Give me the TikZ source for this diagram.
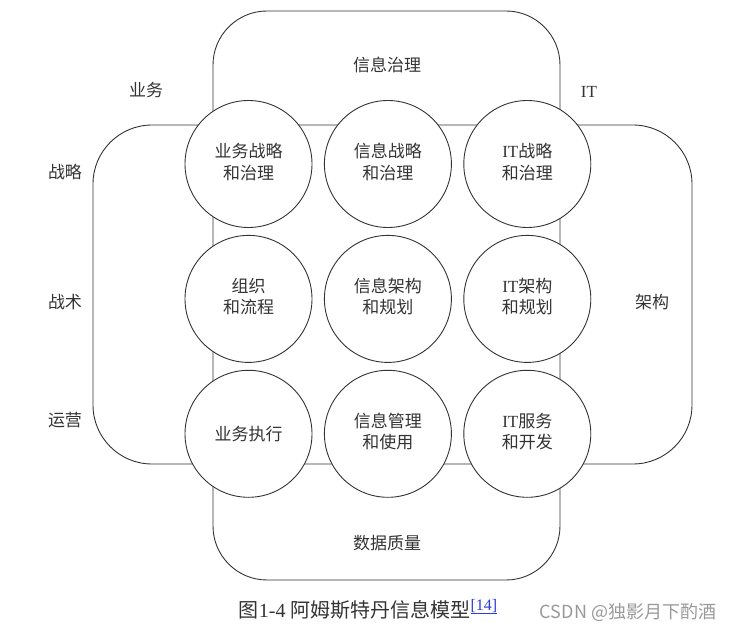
\documentclass[tikz,border=0pt]{standalone}
\usepackage{fontspec}
\setmainfont{Liberation Serif}
\newfontfamily\cjk{Noto Sans CJK SC}
\usepackage{xcolor}
\definecolor{amsblack}{HTML}{333333}
\definecolor{amslink}{HTML}{2A3BD6}
\definecolor{amsgray}{HTML}{999999}
\usetikzlibrary{positioning}
\newcommand{\cellpair}[2]{\raisebox{-17pt}{\begin{tabular}{@{}c@{}}#1\\#2\end{tabular}}}

\begin{document}
\begin{tikzpicture}[
    x=1pt, y=-1pt,
    node distance=7pt and 11.5pt,
    band/.style={draw=amsblack, line width=0.9pt, inner sep=0pt},
    cell/.style={draw=amsblack, line width=0.9pt, circle, fill=white, minimum size=127pt, inner sep=0pt, font=\cjk\fontsize{17}{21.5}\selectfont, text=amsblack},
    tag/.style={font=\cjk\fontsize{17}{21}\selectfont, text=amsblack, inner sep=1pt},
]
\useasboundingbox (0,0) rectangle (740,631);

% Bands
\node[band, rounded corners=54pt, minimum width=347pt, minimum height=569pt] (infoband) at (386.5,295.5) {};
\node[band, rounded corners=59pt, minimum width=599pt, minimum height=339pt] (levelband) at (392.5,294.5) {};

% Cells
\node[cell] (bizstrat) at (248.5,164) {\cellpair{业务战略}{和治理}};
\node[cell, right=of bizstrat] (infostrat) {\cellpair{信息战略}{和治理}};
\node[cell, right=of infostrat] (itstrat) {\cellpair{{\rmfamily IT}战略}{和治理}};
\node[cell, below=of bizstrat] (bizorg) {\cellpair{组织}{和流程}};
\node[cell, right=of bizorg] (infoarch) {\cellpair{信息架构}{和规划}};
\node[cell, right=of infoarch] (itarch) {\cellpair{{\rmfamily IT}架构}{和规划}};
\node[cell, below=of bizorg] (bizexec) {\raisebox{-5pt}{业务执行}};
\node[cell, right=of bizexec] (infouse) {\cellpair{信息管理}{和使用}};
\node[cell, right=of infouse] (itserv) {\cellpair{{\rmfamily IT}服务}{和开发}};

% Labels
\node[tag] (govern) at (387,65) {信息治理};
\node[tag] (quality) at (387,543) {数据质量};
\node[tag] (biz) at (146,90) {业务};
\node[tag, font=\rmfamily\fontsize{17}{21}\selectfont] (it) at (589,92) {IT};
\node[tag] (strat) at (65,172) {战略};
\node[tag] (tact) at (65,302) {战术};
\node[tag] (oper) at (65,420) {运营};
\node[tag] (arch) at (652,302) {架构};

% Caption
\node[font=\fontsize{20}{24}\selectfont, text=amsblack, inner sep=0pt] (caption) at (368,609)
    {{\cjk 图}1-4 {\cjk 阿姆斯特丹信息模型}\raisebox{7pt}{\fontsize{16}{18}\selectfont\color{amslink}\underline{[14]}}};
\node[font=\cjk\fontsize{18}{22}\selectfont, text=amsgray, inner sep=0pt] (mark) at (628,612) {CSDN @独影月下酌酒};

\end{tikzpicture}
\end{document}
